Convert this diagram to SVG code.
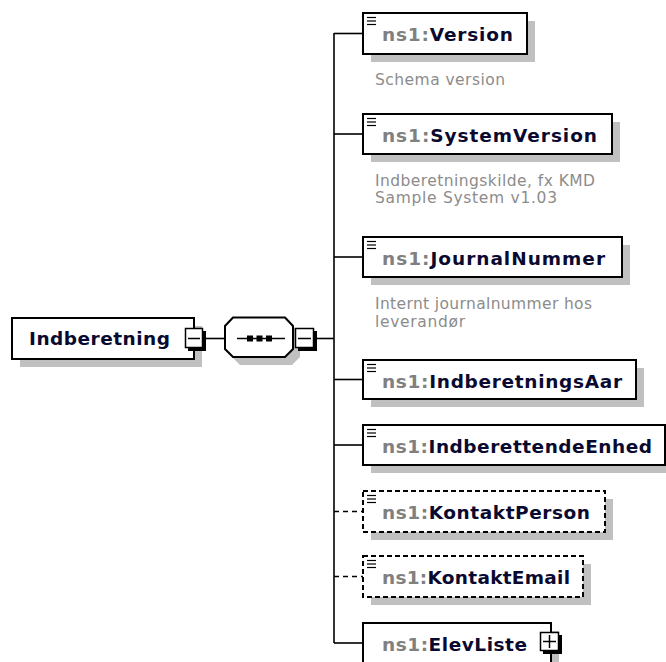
<svg xmlns="http://www.w3.org/2000/svg" xmlns:xlink="http://www.w3.org/1999/xlink" width="666" height="662" viewBox="0 0 666 662">
<style>
.bg{fill:#fff}
.box{fill:#fff;stroke:#000;stroke-width:2}
.dash{stroke-dasharray:5 3}
.shadow{fill:#c0c0c0}
.name{font-family:"DejaVu Sans",Verdana,sans-serif;font-weight:bold;font-size:18.5px;fill:#0a0a30}
.ns{fill:#808080}
.ann{font-family:"DejaVu Sans",Verdana,sans-serif;font-size:15.5px;fill:#8c8c8c}
.conn{stroke:#000;stroke-width:1.6;fill:none}
.conn.dash{stroke-dasharray:5 4}
.icon{stroke:#000;stroke-width:1.2}
.btn{fill:#fff;stroke:#000;stroke-width:1.5}
.btnsh{fill:#000}
.sign{stroke:#000;stroke-width:1.5}
</style>
<defs>
<g id="icon" class="icon">
<line x1="0" y1="0.5" x2="9" y2="0.5"/>
<line x1="0" y1="4" x2="9" y2="4"/>
<line x1="0" y1="7.5" x2="9" y2="7.5"/>
</g>
</defs>
<rect class="bg" x="0" y="0" width="666" height="662"/>

<g id="connectors">
<line class="conn" x1="205" y1="338.5" x2="226" y2="338.5"/>
<line class="conn" x1="316" y1="338.5" x2="334" y2="338.5"/>
<line class="conn" x1="334" y1="33" x2="334" y2="643"/>
<line class="conn" x1="334" y1="33.5" x2="363" y2="33.5"/>
<line class="conn" x1="334" y1="134" x2="363" y2="134"/>
<line class="conn" x1="334" y1="257" x2="363" y2="257"/>
<line class="conn" x1="334" y1="379.5" x2="363" y2="379.5"/>
<line class="conn" x1="334" y1="445" x2="363" y2="445"/>
<line class="conn dash" x1="334" y1="511.5" x2="363" y2="511.5"/>
<line class="conn dash" x1="334" y1="576.5" x2="363" y2="576.5"/>
<line class="conn" x1="334" y1="643" x2="363" y2="643"/>
</g>

<g id="Indberetning">
<rect class="shadow" x="20" y="326" width="182" height="41"/>
<rect class="box" x="12" y="318" width="182" height="41"/>
<text class="name" x="29" y="345" textLength="141" lengthAdjust="spacing">Indberetning</text>
<rect class="btnsh" x="188" y="331" width="18" height="20"/>
<rect class="btn" x="185.5" y="328.5" width="17" height="19"/>
<line class="sign" x1="188" y1="338.5" x2="200" y2="338.5"/>
</g>

<g id="sequence">
<polygon class="shadow" points="240,325 292,325 300,334 300,357 292,365 240,365 232,357 232,334"/>
<polygon class="box" points="233,317.5 285,317.5 293,326 293,349 285,357 233,357 225,349 225,326"/>
<line class="conn" x1="237" y1="338.5" x2="285" y2="338.5"/>
<rect x="247" y="335.5" width="6" height="6" fill="#000"/>
<rect x="256.5" y="335.5" width="6" height="6" fill="#000"/>
<rect x="266" y="335.5" width="6" height="6" fill="#000"/>
<rect class="btnsh" x="298" y="331" width="19" height="20"/>
<rect class="btn" x="295.5" y="328.5" width="18" height="19"/>
<line class="sign" x1="298" y1="338.5" x2="311" y2="338.5"/>
</g>

<g id="Version">
<rect class="shadow" x="371" y="21" width="164" height="41"/>
<rect class="box" x="363" y="13" width="164" height="41"/>
<use xlink:href="#icon" x="367" y="17"/>
<text class="name" x="382" y="41" textLength="131" lengthAdjust="spacing"><tspan class="ns">ns1:</tspan>Version</text>
<text class="ann" x="375" y="85" textLength="130" lengthAdjust="spacing">Schema version</text>
</g>

<g id="SystemVersion">
<rect class="shadow" x="371" y="122" width="249" height="40"/>
<rect class="box" x="363" y="114" width="249" height="40"/>
<use xlink:href="#icon" x="367" y="118"/>
<text class="name" x="382" y="142" textLength="215" lengthAdjust="spacing"><tspan class="ns">ns1:</tspan>SystemVersion</text>
<text class="ann" x="375" y="186" textLength="220" lengthAdjust="spacing">Indberetningskilde, fx KMD</text>
<text class="ann" x="375" y="203" textLength="182" lengthAdjust="spacing">Sample System v1.03</text>
</g>

<g id="JournalNummer">
<rect class="shadow" x="371" y="245" width="259" height="40"/>
<rect class="box" x="363" y="237" width="259" height="40"/>
<use xlink:href="#icon" x="367" y="241"/>
<text class="name" x="382" y="265" textLength="223" lengthAdjust="spacing"><tspan class="ns">ns1:</tspan>JournalNummer</text>
<text class="ann" x="375" y="309" textLength="217" lengthAdjust="spacing">Internt journalnummer hos</text>
<text class="ann" x="375" y="327" textLength="90" lengthAdjust="spacing">leverandør</text>
</g>

<g id="IndberetningsAar">
<rect class="shadow" x="371" y="368" width="273" height="39"/>
<rect class="box" x="363" y="360" width="273" height="39"/>
<use xlink:href="#icon" x="367" y="364"/>
<text class="name" x="382" y="388" textLength="240" lengthAdjust="spacing"><tspan class="ns">ns1:</tspan>IndberetningsAar</text>
</g>

<g id="IndberettendeEnhed">
<rect class="shadow" x="371" y="433" width="302" height="40"/>
<rect class="box" x="363" y="425" width="302" height="40"/>
<use xlink:href="#icon" x="367" y="429"/>
<text class="name" x="382" y="453" textLength="270" lengthAdjust="spacing"><tspan class="ns">ns1:</tspan>IndberettendeEnhed</text>
</g>

<g id="KontaktPerson">
<rect class="shadow" x="371" y="499" width="242" height="41"/>
<rect class="box dash" x="363" y="491" width="242" height="41"/>
<use xlink:href="#icon" x="367" y="495"/>
<text class="name" x="382" y="519" textLength="208" lengthAdjust="spacing"><tspan class="ns">ns1:</tspan>KontaktPerson</text>
</g>

<g id="KontaktEmail">
<rect class="shadow" x="371" y="564" width="220" height="41"/>
<rect class="box dash" x="363" y="556" width="220" height="41"/>
<use xlink:href="#icon" x="367" y="560"/>
<text class="name" x="382" y="584" textLength="188" lengthAdjust="spacing"><tspan class="ns">ns1:</tspan>KontaktEmail</text>
</g>

<g id="ElevListe">
<rect class="shadow" x="371" y="631" width="188" height="40"/>
<rect class="box" x="363" y="623" width="188" height="40"/>
<text class="name" x="382" y="651" textLength="145" lengthAdjust="spacing"><tspan class="ns">ns1:</tspan>ElevListe</text>
<rect class="btnsh" x="543" y="635" width="19" height="19"/>
<rect class="btn" x="540.5" y="632.5" width="18" height="18"/>
<line class="sign" x1="543" y1="641.5" x2="556" y2="641.5"/>
<line class="sign" x1="549.5" y1="635" x2="549.5" y2="648"/>
</g>
</svg>
